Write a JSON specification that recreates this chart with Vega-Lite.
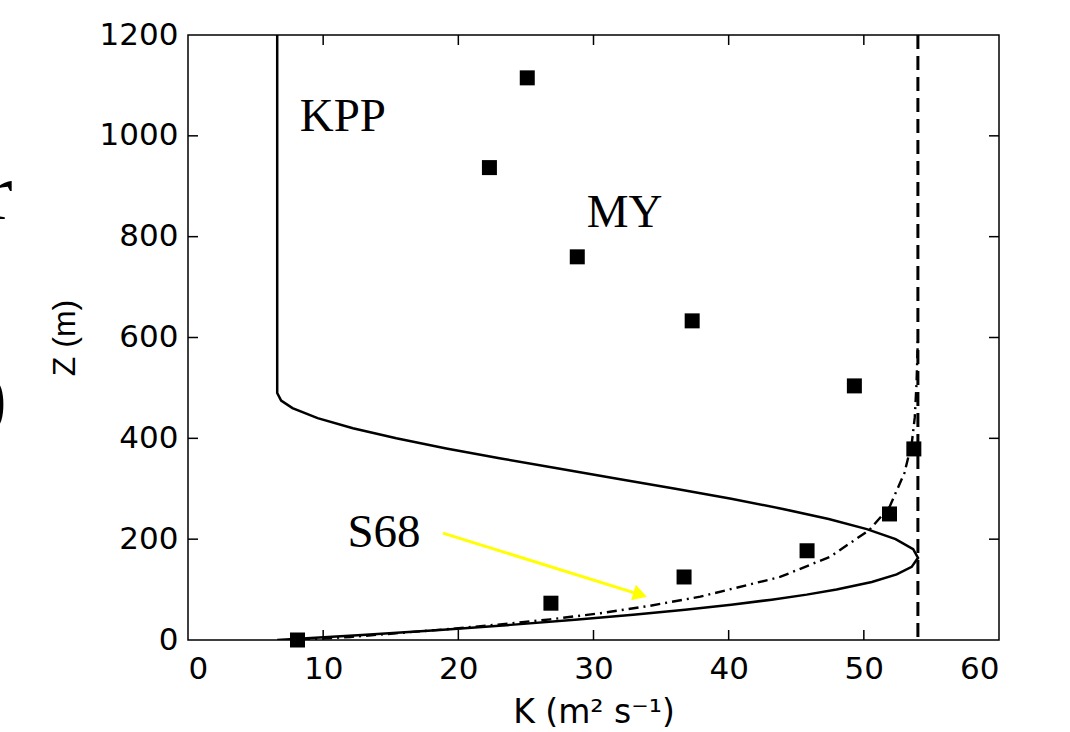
{
  "$schema": "https://vega.github.io/schema/vega-lite/v6.json",
  "width": 811,
  "height": 605,
  "autosize": {"type": "none"},
  "padding": {"left": 188, "top": 35, "right": 71, "bottom": 92},
  "background": "white",
  "config": {
    "view": {"stroke": "black", "strokeWidth": 1.5},
    "axis": {
      "grid": false,
      "domain": false,
      "ticks": false,
      "labelFont": "DejaVu Sans",
      "labelFontSize": 31,
      "labelColor": "black",
      "titleFontWeight": "normal",
      "titleColor": "black"
    }
  },
  "datasets": {
    "kpp": [
      {"K": 6.6, "z": 0}, {"K": 12.87, "z": 10}, {"K": 18.62, "z": 20}, {"K": 23.87, "z": 30},
      {"K": 28.63, "z": 40}, {"K": 32.93, "z": 50}, {"K": 36.78, "z": 60}, {"K": 40.19, "z": 70},
      {"K": 43.18, "z": 80}, {"K": 45.77, "z": 90}, {"K": 47.98, "z": 100}, {"K": 50.59, "z": 115},
      {"K": 52.43, "z": 130}, {"K": 53.54, "z": 145}, {"K": 54.01, "z": 163}, {"K": 53.65, "z": 180},
      {"K": 52.35, "z": 200}, {"K": 50.22, "z": 220}, {"K": 47.4, "z": 240}, {"K": 44.01, "z": 260},
      {"K": 40.19, "z": 280}, {"K": 36.06, "z": 300}, {"K": 31.76, "z": 320}, {"K": 27.41, "z": 340},
      {"K": 23.15, "z": 360}, {"K": 19.11, "z": 380}, {"K": 15.41, "z": 400}, {"K": 12.2, "z": 420},
      {"K": 9.59, "z": 440}, {"K": 7.73, "z": 460}, {"K": 6.89, "z": 475}, {"K": 6.6, "z": 490},
      {"K": 6.6, "z": 1200}
    ],
    "s68": [
      {"K": 8.3, "z": 0}, {"K": 12.0, "z": 6}, {"K": 15.7, "z": 14}, {"K": 19.4, "z": 22},
      {"K": 23.1, "z": 31}, {"K": 26.8, "z": 41}, {"K": 30.5, "z": 53}, {"K": 34.2, "z": 68},
      {"K": 37.9, "z": 86}, {"K": 43.8, "z": 125}, {"K": 47.5, "z": 165}, {"K": 50.4, "z": 218},
      {"K": 51.9, "z": 264}, {"K": 53.0, "z": 331}, {"K": 53.55, "z": 391}, {"K": 53.77, "z": 442},
      {"K": 53.9, "z": 510}, {"K": 54.0, "z": 600}
    ],
    "my": [
      {"K": 8.1, "z": 0}, {"K": 26.85, "z": 73}, {"K": 36.7, "z": 125}, {"K": 45.8, "z": 177},
      {"K": 51.9, "z": 250}, {"K": 53.7, "z": 379}, {"K": 49.3, "z": 504}, {"K": 37.3, "z": 633},
      {"K": 28.8, "z": 760}, {"K": 22.3, "z": 937}, {"K": 25.1, "z": 1115}
    ],
    "labels": [
      {"K": 11.46, "z": 1038, "text": "KPP"},
      {"K": 32.3, "z": 847, "text": "MY"},
      {"K": 14.5, "z": 212, "text": "S68"}
    ],
    "arrow": [
      {"K": 18.86, "z": 212, "K2": 33.45, "z2": 90}
    ],
    "head": [
      {"K": 33.45, "z": 90}
    ],
    "ticks": [
      {"K": 10, "K2": 10, "z": 0, "z2": 19.8},
      {"K": 20, "K2": 20, "z": 0, "z2": 19.8},
      {"K": 30, "K2": 30, "z": 0, "z2": 19.8},
      {"K": 40, "K2": 40, "z": 0, "z2": 19.8},
      {"K": 50, "K2": 50, "z": 0, "z2": 19.8},
      {"K": 10, "K2": 10, "z": 1200, "z2": 1180.2},
      {"K": 20, "K2": 20, "z": 1200, "z2": 1180.2},
      {"K": 30, "K2": 30, "z": 1200, "z2": 1180.2},
      {"K": 40, "K2": 40, "z": 1200, "z2": 1180.2},
      {"K": 50, "K2": 50, "z": 1200, "z2": 1180.2},
      {"K": 0, "K2": 0.74, "z": 200, "z2": 200},
      {"K": 0, "K2": 0.74, "z": 400, "z2": 400},
      {"K": 0, "K2": 0.74, "z": 600, "z2": 600},
      {"K": 0, "K2": 0.74, "z": 800, "z2": 800},
      {"K": 0, "K2": 0.74, "z": 1000, "z2": 1000},
      {"K": 60, "K2": 59.26, "z": 200, "z2": 200},
      {"K": 60, "K2": 59.26, "z": 400, "z2": 400},
      {"K": 60, "K2": 59.26, "z": 600, "z2": 600},
      {"K": 60, "K2": 59.26, "z": 800, "z2": 800},
      {"K": 60, "K2": 59.26, "z": 1000, "z2": 1000}
    ],
    "frag": [
      {"K": -13.0, "z": 883, "text": "r"},
      {"K": -13.4, "z": 476, "text": ")"}
    ]
  },
  "layer": [
    {
      "data": {"name": "kpp"},
      "mark": {"type": "line", "color": "black", "strokeWidth": 2.5, "clip": true},
      "encoding": {
        "x": {"field": "K", "type": "quantitative", "scale": {"domain": [0, 60], "nice": false, "zero": false},
              "axis": {"orient": "bottom", "values": [0, 10, 20, 30, 40, 50, 60], "format": "d", "title": "K (m² s⁻¹)", "titleFont": "DejaVu Sans", "titleFontSize": 33, "labelPadding": 14, "titlePadding": 12}},
        "y": {"field": "z", "type": "quantitative", "scale": {"domain": [0, 1200], "nice": false, "zero": false},
              "axis": {"orient": "left", "values": [0, 200, 400, 600, 800, 1000, 1200], "format": "d", "title": "Z (m)", "titleFont": "Liberation Sans", "titleFontSize": 32, "labelPadding": 10, "titlePadding": 18}},
        "order": {"field": "z", "type": "quantitative"}
      }
    },
    {
      "data": {"name": "ticks"},
      "mark": {"type": "rule", "color": "black", "strokeWidth": 1.5},
      "encoding": {
        "x": {"field": "K", "type": "quantitative"},
        "y": {"field": "z", "type": "quantitative"},
        "x2": {"field": "K2"},
        "y2": {"field": "z2"}
      }
    },
    {
      "data": {"name": "s68"},
      "mark": {"type": "line", "color": "black", "strokeWidth": 2.4, "strokeDash": [10, 5, 2, 5], "clip": true},
      "encoding": {
        "x": {"field": "K", "type": "quantitative"},
        "y": {"field": "z", "type": "quantitative"},
        "order": {"field": "z", "type": "quantitative"}
      }
    },
    {
      "data": {"values": [{"K": 54}]},
      "mark": {"type": "rule", "color": "black", "strokeWidth": 3, "strokeDash": [14, 7]},
      "encoding": {
        "x": {"field": "K", "type": "quantitative"}
      }
    },
    {
      "data": {"name": "my"},
      "mark": {"type": "point", "shape": "square", "filled": true, "color": "black", "size": 225, "opacity": 1},
      "encoding": {
        "x": {"field": "K", "type": "quantitative"},
        "y": {"field": "z", "type": "quantitative"}
      }
    },
    {
      "data": {"name": "arrow"},
      "mark": {"type": "rule", "color": "#ffff00", "strokeWidth": 3},
      "encoding": {
        "x": {"field": "K", "type": "quantitative"},
        "y": {"field": "z", "type": "quantitative"},
        "x2": {"field": "K2"},
        "y2": {"field": "z2"}
      }
    },
    {
      "data": {"name": "head"},
      "mark": {"type": "point", "shape": "triangle-right", "filled": true, "color": "#ffff00", "size": 260, "angle": 17, "opacity": 1},
      "encoding": {
        "x": {"field": "K", "type": "quantitative"},
        "y": {"field": "z", "type": "quantitative"}
      }
    },
    {
      "data": {"name": "labels"},
      "mark": {"type": "text", "font": "Liberation Serif", "fontSize": 47, "color": "black", "align": "center", "baseline": "middle"},
      "encoding": {
        "x": {"field": "K", "type": "quantitative"},
        "y": {"field": "z", "type": "quantitative"},
        "text": {"field": "text"}
      }
    },
    {
      "data": {"name": "frag"},
      "mark": {"type": "text", "font": "Liberation Serif", "fontSize": 80, "color": "black", "align": "right", "baseline": "middle"},
      "encoding": {
        "x": {"field": "K", "type": "quantitative"},
        "y": {"field": "z", "type": "quantitative"},
        "text": {"field": "text"}
      }
    }
  ]
}
